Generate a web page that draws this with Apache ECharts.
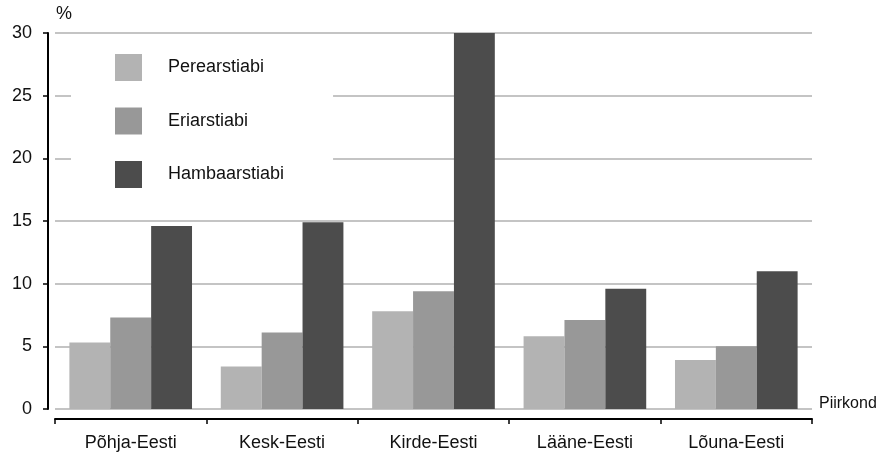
<!DOCTYPE html>
<html lang="et">
<head>
    <meta charset="UTF-8">
    <title>Piirkond</title>
    <style>
        html, body { margin: 0; padding: 0; background: #fff; }
        #chart { width: 886px; height: 452px; }
    </style>
    <script src="https://cdn.jsdelivr.net/npm/echarts@6/dist/echarts.min.js"></script>
</head>
<body>
    <div id="chart"></div>
    <script>
        // andmed
        var regions = ['Põhja-Eesti', 'Kesk-Eesti', 'Kirde-Eesti', 'Lääne-Eesti', 'Lõuna-Eesti'];
        var seriesNames = ['Perearstiabi', 'Eriarstiabi', 'Hambaarstiabi'];
        var perearstiabi = [5.3, 3.4, 7.8, 5.8, 3.9];
        var eriarstiabi = [7.3, 6.1, 9.4, 7.1, 5.0];
        var hambaarstiabi = [14.6, 14.9, 30, 9.6, 11.0];
        var yTicks = [0, 5, 10, 15, 20, 25, 30];

        var colors = ['#b3b3b3', '#989898', '#4c4c4c'];
        var font = 'Liberation Sans, Arial, sans-serif';

        var chart = echarts.init(document.getElementById('chart'));

        var option = {
            animation: false,
            color: colors,
            textStyle: { fontFamily: font, color: '#111' },
            grid: { left: 55, right: 74, top: 33, bottom: 43 },

            // legenda valge kastiga, katab ruudujooni
            legend: {
                orient: 'vertical',
                left: 71,
                top: 38,
                padding: [16, 49, 12, 44],
                backgroundColor: '#fff',
                itemWidth: 27,
                itemHeight: 27,
                itemGap: 26.5,
                icon: 'rect',
                textStyle: { fontSize: 18, fontFamily: font, color: '#111', padding: [0, 0, 0, 21] },
                data: seriesNames
            },

            xAxis: {
                type: 'category',
                data: regions,
                offset: 10,
                name: 'Piirkond',
                nameLocation: 'end',
                nameGap: 7,
                nameTextStyle: { fontSize: 16, fontFamily: font, color: '#111', verticalAlign: 'bottom', padding: [0, 0, 7, 0] },
                axisLine: { onZero: false, lineStyle: { color: '#000', width: 2 } },
                axisTick: { show: true, length: 5, lineStyle: { color: '#000', width: 1.5 } },
                axisLabel: { fontSize: 18, margin: 15, color: '#111' },
                splitLine: { show: false }
            },

            yAxis: {
                type: 'value',
                min: yTicks[0],
                max: yTicks[yTicks.length - 1],
                interval: 5,
                offset: 7,
                name: '%',
                nameLocation: 'end',
                nameGap: 10,
                nameTextStyle: { fontSize: 18, fontFamily: font, color: '#111', align: 'left', padding: [0, 0, 0, 8] },
                axisLine: { show: true, lineStyle: { color: '#000', width: 2 } },
                axisTick: { show: true, length: 5, lineStyle: { color: '#000', width: 1.5 } },
                axisLabel: { fontSize: 18, margin: 16, color: '#111' },
                splitLine: { show: true, lineStyle: { color: '#b0b0b0', width: 1.5 } }
            },

            series: [
                { name: seriesNames[0], type: 'bar', data: perearstiabi, barGap: '0%', barCategoryGap: '19%' },
                { name: seriesNames[1], type: 'bar', data: eriarstiabi, barGap: '0%', barCategoryGap: '19%' },
                { name: seriesNames[2], type: 'bar', data: hambaarstiabi, barGap: '0%', barCategoryGap: '19%' }
            ]
        };

        chart.setOption(option);
    </script>
</body>
</html>
